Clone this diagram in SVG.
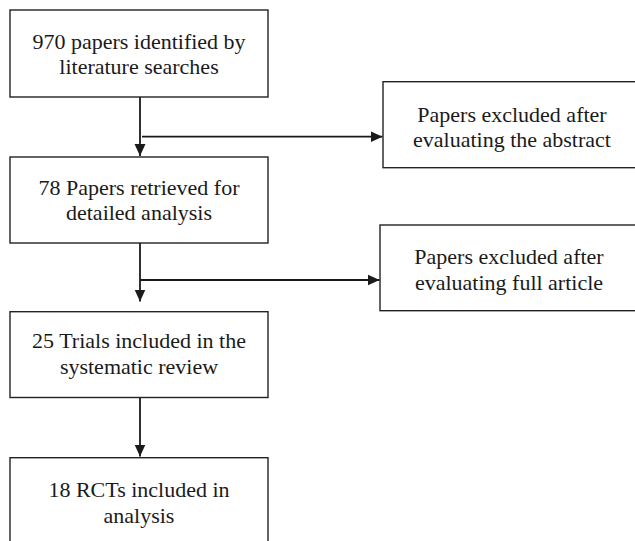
<svg xmlns="http://www.w3.org/2000/svg" width="635" height="541" viewBox="0 0 635 541">
<defs>
<style>
.box{fill:#fff;stroke:#222;stroke-width:1.4}
.t{font-family:'Liberation Serif','Times New Roman',serif;font-size:22px;fill:#1a1a1a;text-anchor:middle}
.c{fill:none;stroke:#1a1a1a;stroke-width:1.8}
</style>
<marker id="ah" viewBox="0 0 12 12" refX="12" refY="6" markerWidth="12" markerHeight="12" markerUnits="userSpaceOnUse" orient="auto">
<path d="M0,0.5 L12,6 L0,11.5 Z" fill="#1a1a1a"/>
</marker>
</defs>
<rect width="635" height="541" fill="#fff"/>
<g id="connectors">
<line class="c" x1="140" y1="97" x2="140" y2="156" marker-end="url(#ah)"/>
<line class="c" x1="142" y1="136.7" x2="382.5" y2="136.7" marker-end="url(#ah)"/>
<line class="c" x1="140" y1="243" x2="140" y2="301.5" marker-end="url(#ah)"/>
<line class="c" x1="140" y1="280" x2="379.5" y2="280" marker-end="url(#ah)"/>
<line class="c" x1="140" y1="397.5" x2="140" y2="456.5" marker-end="url(#ah)"/>
</g>
<g font-family="Liberation Serif, Times New Roman, serif">
<g id="n1">
<rect class="box" x="10" y="10" width="258" height="87"/>
<text class="t" x="139" y="48.5">970 papers identified by</text>
<text class="t" x="139" y="73.5">literature searches</text>
</g>
<g id="n2">
<rect class="box" x="383" y="81.7" width="260" height="86"/>
<text class="t" x="512" y="121.7">Papers excluded after</text>
<text class="t" x="512" y="146.7">evaluating the abstract</text>
</g>
<g id="n3">
<rect class="box" x="10" y="157" width="258" height="86"/>
<text class="t" x="139" y="194.5">78 Papers retrieved for</text>
<text class="t" x="139" y="219.5">detailed analysis</text>
</g>
<g id="n4">
<rect class="box" x="380" y="225" width="260" height="85.7"/>
<text class="t" x="509" y="264">Papers excluded after</text>
<text class="t" x="509" y="290">evaluating full article</text>
</g>
<g id="n5">
<rect class="box" x="10" y="311.7" width="258" height="85.8"/>
<text class="t" x="139" y="348.3">25 Trials included in the</text>
<text class="t" x="139" y="374">systematic review</text>
</g>
<g id="n6">
<rect class="box" x="10" y="457.7" width="258" height="90"/>
<text class="t" x="139" y="496.7">18 RCTs included in</text>
<text class="t" x="139" y="522.7">analysis</text>
</g>
</g>
</svg>
